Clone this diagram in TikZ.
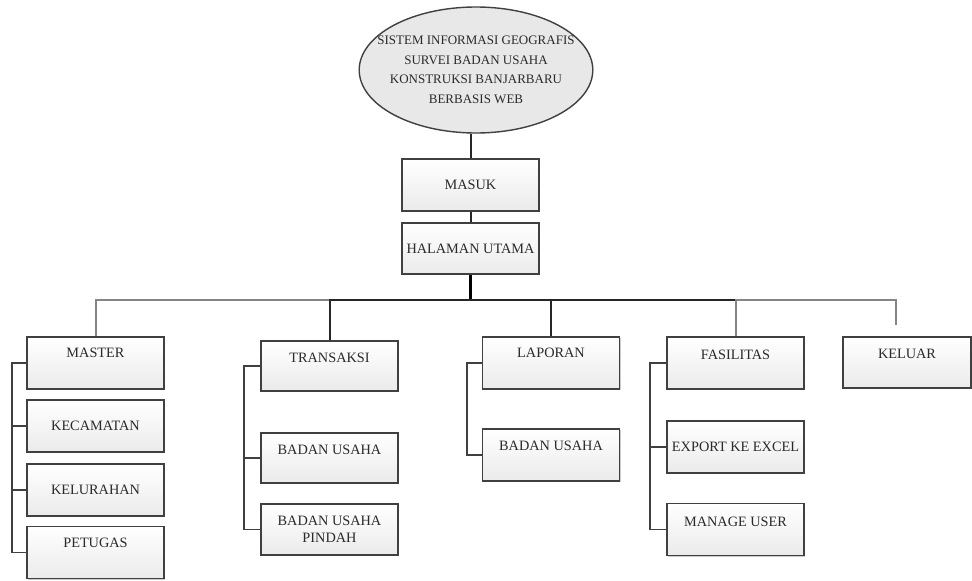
\documentclass[tikz,border=0pt]{standalone}
\usepackage{fontspec}
\setmainfont{Liberation Serif}
\usetikzlibrary{shapes.geometric,shadows,calc}
\definecolor{edge}{HTML}{404040}
\definecolor{txt}{HTML}{2A2A2A}
\definecolor{busgray}{HTML}{858585}
\tikzset{
  menubox/.style={rectangle, draw=edge, line width=1.3pt, top color=white, bottom color=gray!16,
    minimum width=137pt, minimum height=52pt, inner sep=1pt, text=txt,
    font=\fontsize{14.3}{16.5}\selectfont,
    drop shadow={shadow xshift=1.3pt, shadow yshift=-1.3pt, opacity=0.4, fill=gray}},
  lift/.style={text depth=#1},
  titleell/.style={ellipse, draw=edge, line width=1.4pt, fill=gray!18, text=txt,
    minimum width=228pt, minimum height=126pt, inner xsep=-16pt, inner ysep=0pt, align=center,
    font=\fontsize{13}{19.5}\selectfont},
  darkline/.style={draw=black!85, line width=2pt},
  thickline/.style={draw=black, line width=2.8pt},
  grayline/.style={draw=busgray, line width=2pt},
  bracket/.style={draw=edge, line width=1.8pt},
}
\begin{document}
\begin{tikzpicture}[x=1pt,y=-1pt]
\useasboundingbox (0,0) rectangle (972,581);

\node[titleell] (judul) at (476,70) {SISTEM INFORMASI GEOGRAFIS\\SURVEI BADAN USAHA\\KONSTRUKSI BANJARBARU\\BERBASIS WEB};

\node[menubox] (masuk) at (470.5,185) {MASUK};
\node[menubox, minimum height=51pt] (halaman) at (470.5,248.5) {HALAMAN UTAMA};

\node[menubox, lift=20pt] (master) at (95.5,363) {MASTER};
\node[menubox] (kecamatan) at (95.5,426) {KECAMATAN};
\node[menubox] (kelurahan) at (95.5,490) {KELURAHAN};
\node[menubox, lift=20pt] (petugas) at (95.5,552.5) {PETUGAS};

\node[menubox, minimum height=50pt, lift=16pt] (transaksi) at (329.5,366) {TRANSAKSI};
\node[menubox, minimum height=50pt, lift=16pt] (bu1) at (329.5,458) {BADAN USAHA};
\node[menubox, minimum height=51pt, align=center] (pindah) at (329.5,529.5) {BADAN USAHA\\PINDAH};

\node[menubox, lift=20pt] (laporan) at (551,363) {LAPORAN};
\node[menubox, lift=18pt] (bu2) at (551,455) {BADAN USAHA};

\node[menubox, lift=16pt] (fasilitas) at (735.5,363) {FASILITAS};
\node[menubox] (export) at (735.5,447) {EXPORT KE EXCEL};
\node[menubox, lift=16pt] (manage) at (735.5,529.5) {MANAGE USER};

\node[menubox, minimum width=128pt, minimum height=51pt, lift=18pt] (keluar) at (907,362.5) {KELUAR};

\coordinate (bus) at (0,300);
\coordinate (kelend) at (896,325);

% top chain
\draw[darkline] (masuk.north) -- (masuk.north |- judul.south);
\draw[darkline] (halaman.north) -- (masuk.south);
\draw[thickline] (halaman.south) -- (halaman.south |- bus);

% bus
\draw[grayline] (master.north) |- (bus -| transaksi.north);
\draw[darkline] (transaksi.north) |- (bus -| fasilitas.north);
\draw[darkline] (laporan.north) -- (laporan.north |- bus);
\draw[grayline] (fasilitas.north) |- (bus -| kelend) -- (kelend);

% brackets
\draw[bracket] (master.west) -- ++(-14,0) |- (petugas.west);
\draw[bracket] (kecamatan.west) -- ++(-14,0);
\draw[bracket] (kelurahan.west) -- ++(-14,0);

\draw[bracket] (transaksi.west) -- ++(-16,0) |- (pindah.west);
\draw[bracket] (bu1.west) -- ++(-16,0);

\draw[bracket] (laporan.west) -- ++(-15,0) |- (bu2.west);

\draw[bracket] (fasilitas.west) -- ++(-16,0) |- (manage.west);
\draw[bracket] (export.west) -- ++(-16,0);
\end{tikzpicture}
\end{document}
